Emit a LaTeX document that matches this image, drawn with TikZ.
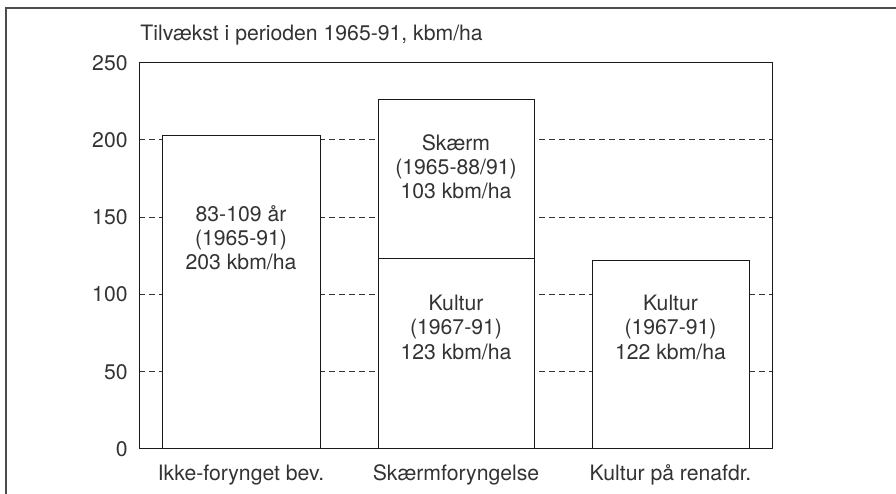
\documentclass[tikz,border=0pt]{standalone}
\usepackage{fontspec}
\setmainfont{TeX Gyre Heros}
\usepackage{tikz}

\tikzset{
  gridline/.style={line width=0.5pt, black!80, dash pattern=on 3pt off 2pt},
  barbox/.style={draw=black!90, fill=white, line width=0.5pt},
  txt/.style={font=\fontsize{10.6}{12.1}\selectfont, inner sep=0pt, text=black!80},
  barlabel/.style={txt, align=center}
}

\begin{document}
\begin{tikzpicture}[x=0.5pt, y=0.7725pt]
 \useasboundingbox (0,-29.13) rectangle (896,290.6);

 \draw[black!70, line width=0.6pt] (6,-29.13) -- (6,285.4) -- (896,285.4);

 \node[txt, anchor=base west] (title) at (140,264.1) {Tilvækst i perioden 1965-91, kbm/ha};

 \foreach \v in {50,100,150,200}
   \draw[gridline] (139,\v) -- (772,\v);
 \foreach \v in {0,50,...,250}
   \node[txt, anchor=east] (tick\v) at (128,\v) {\v};

 \draw[barbox] (162,0) rectangle (320,203);
 \draw[barbox] (378,123) rectangle (534,226);
 \draw[barbox] (378,0) rectangle (534,123);
 \draw[barbox] (592,0) rectangle (749,122);

 \draw[line width=0.5pt, black!90] (139,0) rectangle (772,250);

 \node[barlabel] (ikke) at (241,136.6) {83-109 år\\(1965-91)\\203 kbm/ha};
 \node[barlabel] (skaerm) at (456,182.5) {Skærm\\(1965-88/91)\\103 kbm/ha};
 \node[barlabel] (kultur1) at (456,78.7) {Kultur\\(1967-91)\\123 kbm/ha};
 \node[barlabel] (kultur2) at (670.5,78.7) {Kultur\\(1967-91)\\122 kbm/ha};

 \node[txt, anchor=base] (cat1) at (241,-20.2) {Ikke-forynget bev.};
 \node[txt, anchor=base] (cat2) at (456,-20.2) {Skærmforyngelse};
 \node[txt, anchor=base] (cat3) at (670.5,-20.2) {Kultur på renafdr.};
\end{tikzpicture}
\end{document}
